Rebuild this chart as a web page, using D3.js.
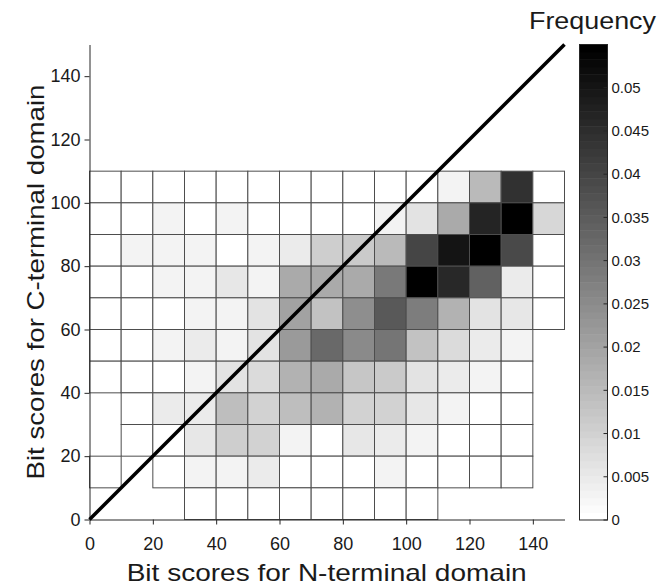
<!DOCTYPE html>
<html>
<head>
<meta charset="utf-8">
<script src="https://cdn.jsdelivr.net/npm/d3@7"></script>
<style>
  body { margin: 0; background: #fff; }
  svg { display: block; font-family: "Liberation Sans", Arial, sans-serif; }
</style>
</head>
<body>
<svg id="chart" width="662" height="587"></svg>
<script>
// 10-point bins for both domains
const xBinStarts = [0, 10, 20, 30, 40, 50, 60, 70, 80, 90, 100, 110, 120, 130, 140];
const yBinStarts = [100, 90, 80, 70, 60, 50, 40, 30, 20, 10, 0]; // top row first
const binWidth = 10;

// frequency per bin, null = empty bin (not drawn); w = tiny, shows white
const w = 0.0002;
const frequency = [
  [w, w, w, w, w, w, w, w, w, w, w, 0.0028, 0.0153, 0.0440, w],
  [w, w, 0.0028, w, 0.0028, w, w, w, w, 0.0028, 0.0067, 0.0188, 0.0468, 0.0550, 0.0093],
  [w, 0.0028, 0.0028, 0.0028, w, 0.0028, 0.0050, 0.0110, 0.0119, 0.0153, 0.0397, 0.0507, 0.0550, 0.0390, w],
  [w, w, 0.0028, 0.0028, 0.0054, 0.0028, 0.0188, 0.0188, 0.0183, 0.0287, 0.0550, 0.0459, 0.0343, 0.0050, w],
  [w, w, w, 0.0028, 0.0028, 0.0067, 0.0205, 0.0136, 0.0248, 0.0356, 0.0283, 0.0170, 0.0067, 0.0054, w],
  [w, w, 0.0032, 0.0050, 0.0028, 0.0067, 0.0220, 0.0321, 0.0252, 0.0300, 0.0136, 0.0084, 0.0045, 0.0028, null],
  [w, w, w, 0.0028, 0.0067, 0.0084, 0.0170, 0.0188, 0.0127, 0.0119, 0.0067, 0.0050, 0.0032, w, null],
  [null, w, 0.0050, 0.0050, 0.0145, 0.0101, 0.0145, 0.0170, 0.0101, 0.0101, 0.0054, 0.0032, w, w, null],
  [null, w, w, 0.0058, 0.0110, 0.0101, 0.0032, w, 0.0054, 0.0045, 0.0028, w, w, w, null],
  [w, null, w, 0.0028, 0.0028, 0.0050, w, w, w, 0.0028, w, w, w, w, null],
  [null, null, null, w, w, w, w, w, w, w, w, null, null, null, null]
];

const axisTicks = [0, 20, 40, 60, 80, 100, 120, 140];
const cbTicks = [0, 0.005, 0.01, 0.015, 0.02, 0.025, 0.03, 0.035, 0.04, 0.045, 0.05];
const cbTickLabels = ["0", "0.005", "0.01", "0.015", "0.02", "0.025", "0.03", "0.035", "0.04", "0.045", "0.05"];
const cMax = 0.055;

const svg = d3.select("#chart");
const axisColor = "#262626";

const x = d3.scaleLinear().domain([0, 150]).range([89.5, 564.5]);
const y = d3.scaleLinear().domain([0, 150]).range([519.5, 44.5]);

// flipped gray colormap, 64 steps (matlab style)
const levels = d3.range(64).map(i => {
  const g = Math.round(255 * (1 - i / 63));
  return d3.rgb(g, g, g).toString();
});
const color = d3.scaleQuantize().domain([0, cMax]).range(levels);

const cells = [];
yBinStarts.forEach((yb, r) => {
  xBinStarts.forEach((xb, c) => {
    const v = frequency[r][c];
    if (v !== null) cells.push({ x0: xb, y0: yb, v });
  });
});

svg.append("g").selectAll("rect").data(cells).join("rect")
  .attr("x", d => x(d.x0))
  .attr("y", d => y(d.y0 + binWidth))
  .attr("width", d => x(d.x0 + binWidth) - x(d.x0))
  .attr("height", d => y(d.y0) - y(d.y0 + binWidth))
  .attr("fill", d => color(d.v))
  .attr("stroke", "#4d4d4d")
  .attr("stroke-width", 1);

// axes
const xAxis = svg.append("g").attr("transform", `translate(0,${y(0)})`)
  .call(d3.axisBottom(x).tickValues(axisTicks).tickFormat(d3.format("d")).tickSize(5).tickSizeOuter(0).tickPadding(13));
const yAxis = svg.append("g").attr("transform", `translate(${x(0)},0)`)
  .call(d3.axisLeft(y).tickValues(axisTicks).tickFormat(d3.format("d")).tickSize(5).tickSizeOuter(0).tickPadding(4));
[xAxis, yAxis].forEach(a => {
  a.select(".domain").attr("stroke", axisColor);
  a.selectAll(".tick line").attr("stroke", axisColor);
  a.selectAll(".tick text").attr("fill", "#1a1a1a").style("font-size", "18px").style("font-family", "Liberation Sans, Arial, sans-serif");
});

// y = x reference line
svg.append("line")
  .attr("x1", x(0)).attr("y1", y(0))
  .attr("x2", x(150)).attr("y2", y(150))
  .attr("stroke", "#000").attr("stroke-width", 3.5);

svg.append("text")
  .attr("x", 326.7).attr("y", 581)
  .attr("text-anchor", "middle")
  .attr("textLength", 400).attr("lengthAdjust", "spacingAndGlyphs")
  .style("font-size", "24px").attr("fill", "#1a1a1a")
  .text("Bit scores for N-terminal domain");

svg.append("text")
  .attr("transform", `translate(44,${(y(0) + y(150)) / 2}) rotate(-90)`)
  .attr("text-anchor", "middle")
  .attr("textLength", 395).attr("lengthAdjust", "spacingAndGlyphs")
  .style("font-size", "24px").attr("fill", "#1a1a1a")
  .text("Bit scores for C-terminal domain");

// colorbar
const cb = { x: 579.5, w: 28, top: 44.5, bottom: 520 };
const cy = d3.scaleLinear().domain([0, cMax]).range([cb.bottom, cb.top]);
const step = cMax / levels.length;
svg.append("g").selectAll("rect").data(levels).join("rect")
  .attr("x", cb.x)
  .attr("y", (d, i) => cy((i + 1) * step))
  .attr("width", cb.w)
  .attr("height", (d, i) => cy(i * step) - cy((i + 1) * step) + 0.5)
  .attr("fill", d => d);
svg.append("rect")
  .attr("x", cb.x).attr("y", cb.top).attr("width", cb.w).attr("height", cb.bottom - cb.top)
  .attr("fill", "none").attr("stroke", axisColor).attr("stroke-width", 1);

const cbTick = svg.append("g").selectAll("g").data(cbTicks).join("g")
  .attr("transform", d => `translate(${cb.x + cb.w},${cy(d)})`);
cbTick.append("line").attr("x1", 0).attr("x2", -4).attr("stroke", axisColor);
cbTick.append("text")
  .attr("x", 4).attr("dy", "0.35em")
  .style("font-size", "15px").attr("fill", "#1a1a1a")
  .text((d, i) => cbTickLabels[i]);

svg.append("text")
  .attr("x", 656).attr("y", 29)
  .attr("text-anchor", "end")
  .attr("textLength", 127).attr("lengthAdjust", "spacingAndGlyphs")
  .style("font-size", "23px").attr("fill", "#1a1a1a")
  .text("Frequency");
</script>
</body>
</html>
